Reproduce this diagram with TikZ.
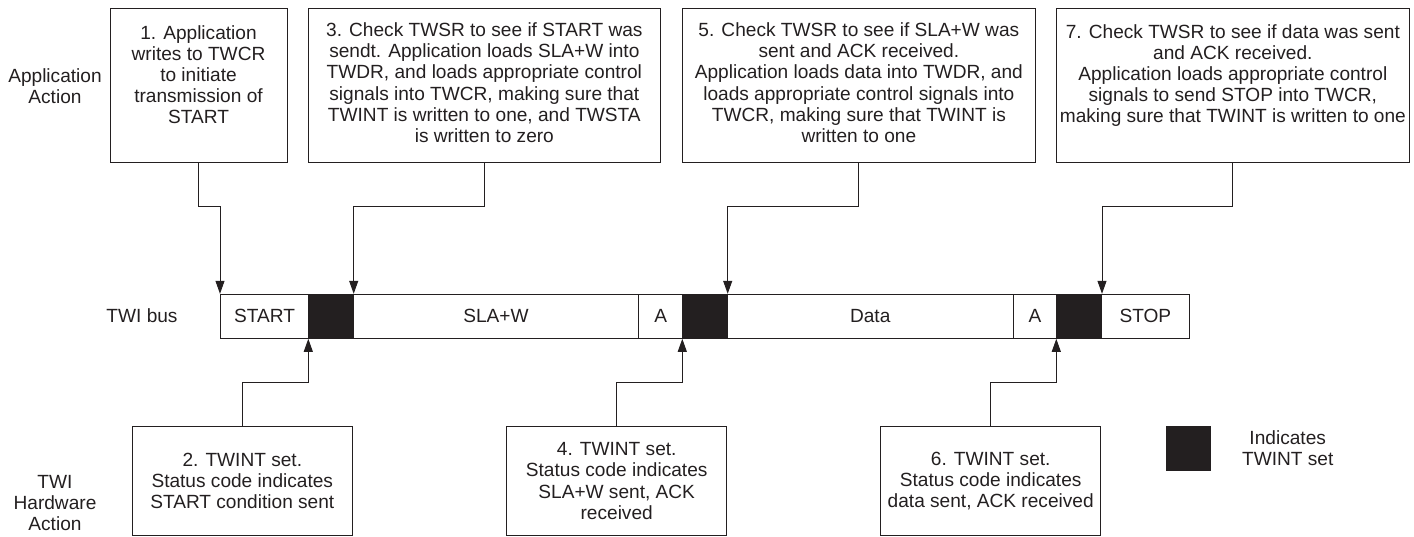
\documentclass[tikz,border=0pt]{standalone}
\usepackage{fontspec}
\setmainfont{Liberation Sans}
\usetikzlibrary{arrows.meta}
\definecolor{ink}{HTML}{231F20}
\tikzset{
  every node/.style={font=\fontsize{19.1}{21.2}\selectfont, text=ink, inner sep=0pt},
  box/.style={draw=ink, line width=1pt, align=center},
  cell/.style={draw=ink, line width=1pt, minimum height=44pt, anchor=west},
  blk/.style={cell, fill=ink},
  txt/.style={align=center},
  arr/.style={draw=ink, line width=1pt, -{Triangle[length=13pt,width=9pt]}}
}
\begin{document}
\begin{tikzpicture}[x=1pt,y=-1pt]
\useasboundingbox (0,0) rectangle (1414,536);
% side labels
\node[txt] (lapp) at (55,86) {Application\\Action};
\node[txt] (lbus) at (142,316) {TWI bus};
\node[txt] (lhw) at (55,503) {TWI\\Hardware\\Action};
% upper boxes
\node[box, minimum width=177pt, minimum height=154pt] (b1) at (198.5,85) {};
\node[box, minimum width=352.7pt, minimum height=154pt] (b3) at (484.35,85) {};
\node[box, minimum width=353.7pt, minimum height=154pt] (b5) at (858.85,85) {};
\node[box, minimum width=352.3pt, minimum height=154pt] (b7) at (1232.85,85) {};
\node[txt, anchor=north] (t1) at (198.5,25) {1. Application\\writes to TWCR\\to initiate\\transmission of\\START};
\node[txt, anchor=north] (t3) at (484.35,22.5) {\fontsize{19.1}{20.8}\selectfont 3. Check TWSR to see if START was\\sendt. Application loads SLA+W into\\TWDR, and loads appropriate control\\signals into TWCR, making sure that\\TWINT is written to one, and TWSTA\\is written to zero};
\node[txt, anchor=north] (t5) at (858.85,22.5) {\fontsize{19.1}{20.8}\selectfont 5. Check TWSR to see if SLA+W was\\sent and ACK received.\\Application loads data into TWDR, and\\loads appropriate control signals into\\TWCR, making sure that TWINT is\\written to one};
\node[txt, anchor=north] (t7) at (1232.85,24) {\fontsize{19.1}{20.8}\selectfont 7. Check TWSR to see if data was sent\\and ACK received.\\Application loads appropriate control\\signals to send STOP into TWCR,\\making sure that TWINT is written to one};
% bus
\node[cell, minimum width=88.3pt] (start) at (220,316.3) {START};
\node[blk, minimum width=44.4pt] (k1) at (308.3,316.3) {};
\node[cell, minimum width=285.6pt] (sla) at (352.7,316.3) {SLA+W};
\node[cell, minimum width=44pt] (a1) at (638.3,316.3) {A};
\node[blk, minimum width=44.4pt] (k2) at (682.3,316.3) {};
\node[cell, minimum width=286pt] (data) at (726.7,316.3) {Data};
\node[cell, minimum width=43.6pt] (a2) at (1012.7,316.3) {A};
\node[blk, minimum width=44.7pt] (k3) at (1056.3,316.3) {};
\node[cell, minimum width=87.7pt] (stop) at (1101,316.3) {STOP};
% lower boxes
\node[box, minimum width=220pt, minimum height=108.6pt] (b2) at (242.3,481) {2. TWINT set.\\Status code indicates\\START condition sent};
\node[box, minimum width=220pt, minimum height=108.6pt] (b4) at (616.7,481) {4. TWINT set.\\Status code indicates\\SLA+W sent, ACK\\received};
\node[box, minimum width=220pt, minimum height=108.6pt] (b6) at (990.7,481) {6. TWINT set.\\Status code indicates\\data sent, ACK received};
% legend
\node[fill=ink, minimum size=44.4pt] (leg) at (1188.5,448.5) {};
\node[txt] (legt) at (1287.7,448) {Indicates\\TWINT set};
% connectors
\draw[arr] (b1.south) -- (b1.south |- 0,206.5) -| (start.north west);
\draw[arr] (b3.south) -- (b3.south |- 0,206.5) -| (k1.north east);
\draw[arr] (b5.south) -- (b5.south |- 0,206.5) -| (k2.north east);
\draw[arr] (b7.south) -- (b7.south |- 0,206.5) -| (k3.north east);
\draw[arr] (b2.north) -- (b2.north |- 0,382.3) -| (k1.south west);
\draw[arr] (b4.north) -- (b4.north |- 0,382.3) -| (k2.south west);
\draw[arr] (b6.north) -- (b6.north |- 0,382.3) -| (k3.south west);
\end{tikzpicture}
\end{document}
